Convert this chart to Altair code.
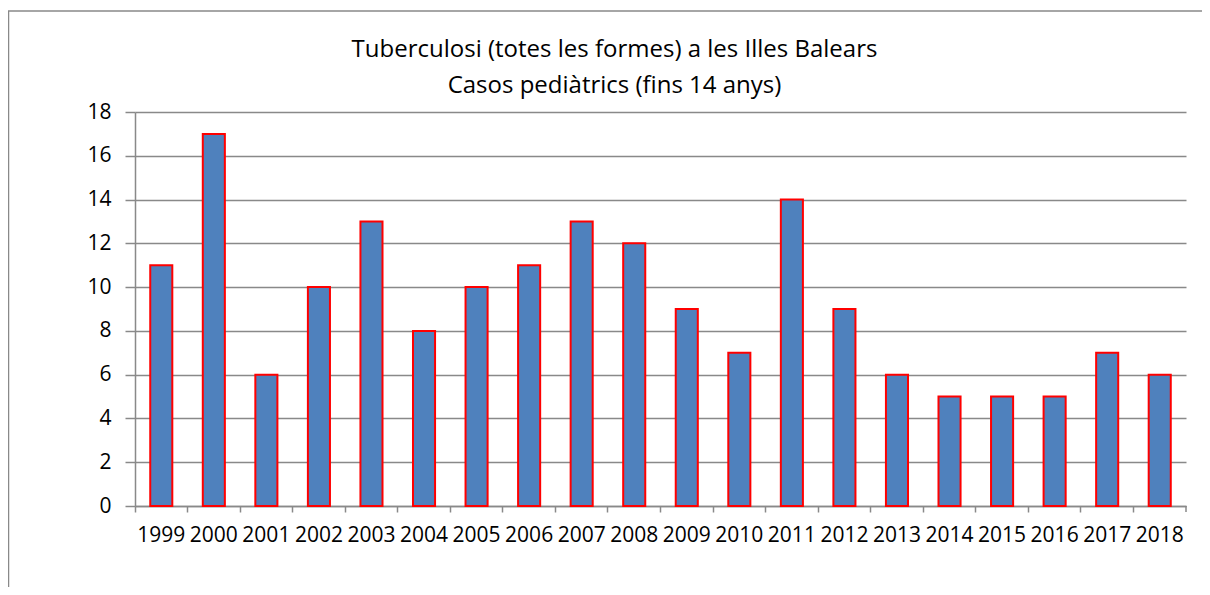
import altair as alt
import pandas as pd

years = [str(y) for y in range(1999, 2019)]
cases = [11, 17, 6, 10, 13, 8, 10, 11, 13, 12, 9, 7, 14, 9, 6, 5, 5, 5, 7, 6]
title_lines = ["Tuberculosi (totes les formes) a les Illes Balears",
               "Casos pediàtrics (fins 14 anys)"]
y_ticks = list(range(0, 19, 2))

df = pd.DataFrame({"year": years, "cases": cases})
one = pd.DataFrame({"k": [0]})

FONT = "Open Sans"
GRAY = "#898989"
W, H = 1051, 394

bars = alt.Chart(df).mark_bar(
    color="#4F81BD", stroke="#FF0000", strokeWidth=2,
    width=alt.RelativeBandSize(0.42)
).encode(
    x=alt.X("year:N", sort=None, title=None,
            scale=alt.Scale(paddingInner=0, paddingOuter=0),
            axis=alt.Axis(labelAngle=0, bandPosition=0,
                          tickSize=6, labelPadding=12, grid=False)),
    y=alt.Y("cases:Q", title=None,
            scale=alt.Scale(domain=[0, 18], nice=False),
            axis=alt.Axis(values=y_ticks, tickSize=10, labelPadding=14,
                          grid=True)),
)

end_tick = alt.Chart(one).mark_rule(color=GRAY, strokeWidth=1.5).encode(
    x=alt.value(W), y=alt.value(H), y2=alt.value(H + 6))

frame_left = alt.Chart(one).mark_rule(color=GRAY, strokeWidth=1.5).encode(
    x=alt.value(-126.5), y=alt.value(-101), y2=alt.value(H + 120))
frame_top = alt.Chart(one).mark_rule(color=GRAY, strokeWidth=1.5).encode(
    x=alt.value(-127), x2=alt.value(W + 40), y=alt.value(-101))

chart = alt.layer(frame_left, frame_top, bars, end_tick).properties(
    width=W, height=H,
    title=alt.TitleParams(title_lines, anchor="middle", frame="group",
                          dx=-46, offset=-88, fontSize=24, font=FONT,
                          fontWeight="normal", color="black", lineHeight=36),
    autosize=alt.AutoSizeParams(type="none"),
    padding={"left": 127, "top": 104, "right": 16, "bottom": 81},
    background="white",
).configure_view(stroke=None).configure_axis(
    labelFont=FONT, labelFontSize=21, labelColor="black",
    domainColor=GRAY, domainWidth=1.5, tickColor=GRAY, tickWidth=1.5,
    gridColor=GRAY, gridWidth=1.5,
)

chart.save("out.html", embed_options={"renderer": "svg", "actions": False})
